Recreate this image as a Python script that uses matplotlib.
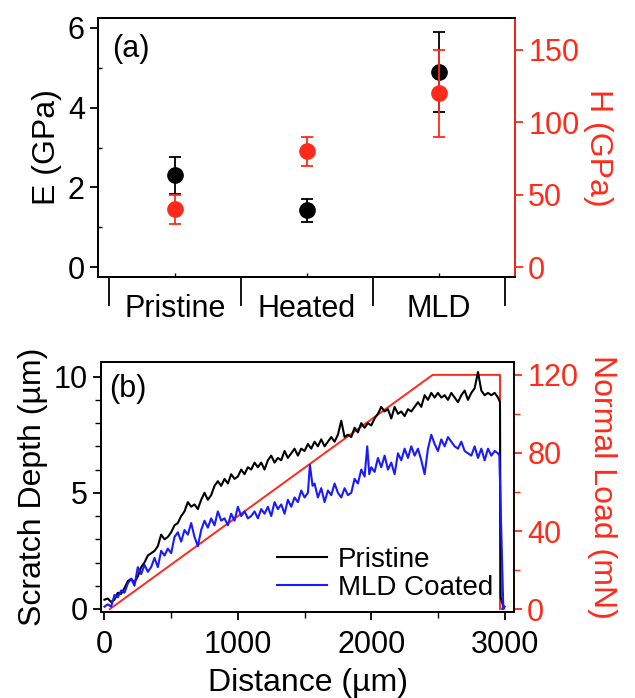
import numpy as np
import matplotlib
matplotlib.use("Agg")
import matplotlib.pyplot as plt

plt.rcParams['font.family'] = ['Liberation Sans', 'DejaVu Sans']

# (a) modulus and hardness
muestras = ['Pristine', 'Heated', 'MLD']
E_val = [2.3, 1.43, 4.9]
E_err = [0.46, 0.29, 1.0]
H_val = [40, 80, 120]
H_err = [10, 10, 30]

# (b) scratch test
dist_pristine = [0, 25, 50, 75, 100, 125, 150, 175, 200, 225, 250, 275, 300, 325, 350, 375,
                 400, 425, 450, 475, 500, 525, 550, 575, 600, 625, 650, 675, 700, 725, 750, 775,
                 800, 825, 850, 875, 900, 925, 950, 975, 1000, 1025, 1050, 1075, 1100, 1125,
                 1150, 1175, 1200, 1225, 1250, 1275, 1300, 1325, 1350, 1375, 1400, 1425, 1450,
                 1475, 1500, 1525, 1550, 1575, 1600, 1625, 1650, 1675, 1700, 1725, 1750, 1775,
                 1800, 1825, 1850, 1875, 1900, 1925, 1950, 1975, 2000, 2025, 2050, 2075, 2100,
                 2125, 2150, 2175, 2200, 2225, 2250, 2275, 2300, 2325, 2350, 2375, 2400, 2425,
                 2450, 2475, 2500, 2525, 2550, 2575, 2600, 2625, 2650, 2675, 2700, 2725, 2750,
                 2775, 2800, 2825, 2850, 2875, 2900, 2925, 2950, 2965, 2970, 2990]
prof_pristine = [0.40, 0.45, 0.30, 0.40, 0.70, 0.65, 0.90, 1.20, 1.30, 1.15, 1.40, 1.80, 2.00,
                 2.30, 2.40, 2.50, 2.70, 3.20, 3.00, 3.10, 3.30, 3.60, 3.70, 4.00, 4.20, 4.60,
                 4.40, 4.50, 4.30, 4.70, 5.00, 4.70, 4.90, 5.30, 5.50, 5.30, 5.60, 5.40, 5.80,
                 5.60, 5.70, 6.00, 5.80, 6.10, 6.00, 6.30, 6.10, 6.30, 6.00, 6.40, 6.60, 6.30,
                 6.50, 6.40, 6.80, 6.50, 6.70, 6.90, 6.60, 6.90, 6.80, 7.10, 6.90, 7.20, 7.00,
                 7.30, 7.00, 7.20, 7.40, 7.20, 7.50, 8.10, 7.40, 7.50, 7.40, 7.80, 7.60, 8.00,
                 7.80, 8.00, 7.90, 8.20, 8.40, 8.70, 8.50, 8.60, 8.20, 8.70, 8.40, 8.50, 8.30,
                 8.60, 8.50, 8.70, 8.90, 8.70, 9.20, 9.00, 9.30, 9.10, 9.30, 9.10, 9.20, 9.00,
                 9.30, 9.10, 8.90, 9.20, 9.40, 9.00, 9.30, 9.50, 10.20, 9.40, 9.20, 9.30, 9.20,
                 9.30, 9.10, 8.90, 0.50, 0.10]

dist_mld = [0, 25, 50, 75, 100, 125, 150, 175, 200, 225, 250, 275, 300, 325, 350, 375, 400,
            425, 450, 475, 500, 525, 550, 575, 600, 625, 650, 675, 700, 725, 750, 775, 800, 825,
            850, 875, 900, 925, 950, 975, 1000, 1025, 1050, 1075, 1100, 1125, 1150, 1175, 1200,
            1225, 1250, 1275, 1300, 1325, 1350, 1375, 1400, 1425, 1450, 1475, 1500, 1525, 1540,
            1560, 1575, 1600, 1625, 1650, 1675, 1700, 1725, 1750, 1775, 1800, 1825, 1850, 1875,
            1900, 1925, 1950, 1970, 1985, 2000, 2025, 2050, 2075, 2100, 2125, 2150, 2175, 2200,
            2225, 2250, 2275, 2300, 2325, 2350, 2375, 2400, 2425, 2450, 2475, 2500, 2525, 2550,
            2575, 2600, 2625, 2650, 2675, 2700, 2725, 2750, 2775, 2800, 2825, 2850, 2875, 2900,
            2925, 2950, 2960, 2990, 3000]
prof_mld = [0.10, 0.20, 0.10, 0.60, 0.50, 0.80, 0.70, 1.10, 1.30, 1.00, 1.80, 1.50, 1.90, 1.60,
            1.80, 2.20, 1.80, 2.50, 2.30, 2.60, 2.40, 3.10, 3.30, 2.90, 3.40, 3.20, 3.70, 3.10,
            2.70, 3.40, 3.80, 3.50, 3.90, 3.60, 4.20, 3.80, 3.90, 3.60, 4.10, 3.80, 4.40, 4.00,
            4.20, 3.90, 4.00, 4.20, 3.90, 4.30, 4.10, 4.40, 4.00, 4.60, 4.30, 4.50, 4.10, 4.70,
            4.40, 4.80, 4.60, 5.10, 4.80, 5.00, 6.20, 5.30, 5.40, 4.80, 5.20, 4.60, 5.10, 4.90,
            5.40, 5.00, 4.80, 5.20, 4.90, 5.00, 5.60, 5.40, 6.00, 5.70, 7.00, 5.80, 6.10, 5.90,
            6.50, 6.10, 6.60, 6.00, 6.30, 5.80, 6.70, 6.40, 6.90, 6.50, 7.00, 6.60, 6.90, 6.40,
            5.80, 6.90, 7.50, 7.10, 6.80, 7.30, 7.00, 7.40, 7.20, 7.00, 6.90, 7.20, 6.80, 6.70,
            6.60, 7.00, 6.50, 6.90, 6.40, 6.90, 6.60, 6.80, 6.70, 6.60, 0.00, 0.10]

dist_carga = [40, 2460, 2965, 2965, 2990]
carga = [0, 120, 120, 0, 0]

rojo = '#ff2a1a'
fs = 22      # tick labels
fl = 23      # axis labels

fig = plt.figure(figsize=(6.35, 6.98), dpi=100)

# ---------- panel (a)
ax1 = fig.add_axes([98 / 635, 1 - 277 / 698, 417 / 635, 259 / 698])
ax2 = ax1.twinx()
xpos = np.arange(len(muestras)) + 0.5
ax1.errorbar(xpos, E_val, yerr=E_err, fmt='o', color='black', ms=11,
             capsize=4, elinewidth=1.3, capthick=1.3, zorder=3)
ax2.errorbar(xpos, H_val, yerr=H_err, fmt='o', color=rojo, ms=11,
             capsize=4, elinewidth=1.3, capthick=1.3, zorder=3)
ax1.set_xlim(-0.083, 3.076)
ax1.set_ylim(-0.25, 6.25)
ax2.set_ylim(-6.9, 172)
ax1.set_yticks([0, 2, 4, 6])
ax1.set_yticks([1, 3, 5], minor=True)
ax2.set_yticks([0, 50, 100, 150])
ax1.set_xticks([0, 1, 2, 3])
ax1.set_xticklabels([])
ax1.set_xticks(xpos, minor=True)
ax1.set_xticklabels(muestras, minor=True)
ax1.tick_params(axis='x', which='major', direction='out', length=21, width=1.3)
ax1.tick_params(axis='x', which='minor', direction='in', length=3, width=1, labelsize=fs, pad=12)
ax1.tick_params(axis='y', which='major', direction='out', length=6, width=1.3, labelsize=fs)
ax1.tick_params(axis='y', which='minor', direction='in', length=3, width=1)
ax2.tick_params(axis='y', which='major', direction='out', length=6, width=1.3,
                labelsize=fs, colors=rojo)
ax1.set_ylabel('E (GPa)', fontsize=fl)
ax2.set_ylabel('H (GPa)', fontsize=fl, color=rojo, rotation=270, labelpad=24)
for a in (ax1, ax2):
    for s in a.spines.values():
        s.set_linewidth(1.3)
ax2.spines['right'].set_color(rojo)
ax1.text(0.035, 0.94, '(a)', transform=ax1.transAxes, fontsize=fs, va='top')

# ---------- panel (b)
ax3 = fig.add_axes([101 / 635, 1 - 612 / 698, 413 / 635, 250 / 698])
ax4 = ax3.twinx()
ax4.plot(dist_carga, carga, color=rojo, lw=1.4)
ax3.plot(dist_pristine, prof_pristine, color='black', lw=1.5, label='Pristine')
ax3.plot(dist_mld, prof_mld, color='#1a1aff', lw=1.5, label='MLD Coated')
ax3.set_zorder(ax4.get_zorder() + 1)
ax3.patch.set_visible(False)
ax3.set_xlim(-26, 3070)
ax3.set_ylim(-0.13, 10.63)
ax4.set_ylim(-1.5, 126.6)
ax3.set_xticks([0, 1000, 2000, 3000])
ax3.set_xticks([500, 1500, 2500], minor=True)
ax3.set_yticks([0, 5, 10])
ax3.set_yticks(np.arange(1, 10), minor=True)
ax4.set_yticks([0, 40, 80, 120])
ax4.set_yticks([20, 60, 100], minor=True)
ax3.tick_params(which='major', direction='out', length=6, width=1.3, labelsize=fs)
ax3.tick_params(axis='x', which='major', pad=7)
ax3.tick_params(which='minor', direction='out', length=4, width=1)
ax4.tick_params(which='major', direction='out', length=6, width=1.3, labelsize=fs, colors=rojo)
ax4.tick_params(which='minor', direction='out', length=4, width=1, colors=rojo)
ax3.set_xlabel('Distance (µm)', fontsize=fl, labelpad=6)
ax3.set_ylabel('Scratch Depth (µm)', fontsize=fl)
ax4.set_ylabel('Normal Load (mN)', fontsize=fl, color=rojo, rotation=270, labelpad=28)
for a in (ax3, ax4):
    for s in a.spines.values():
        s.set_linewidth(1.3)
ax4.spines['right'].set_color(rojo)
ax3.text(0.02, 0.95, '(b)', transform=ax3.transAxes, fontsize=fs, va='top')
ax3.legend(loc='lower left', bbox_to_anchor=(0.425, 0.045), frameon=False, fontsize=20,
           borderpad=0, borderaxespad=0, handlelength=1.8, handletextpad=0.4,
           labelspacing=0.08)

fig.savefig('out.png', dpi=100)
